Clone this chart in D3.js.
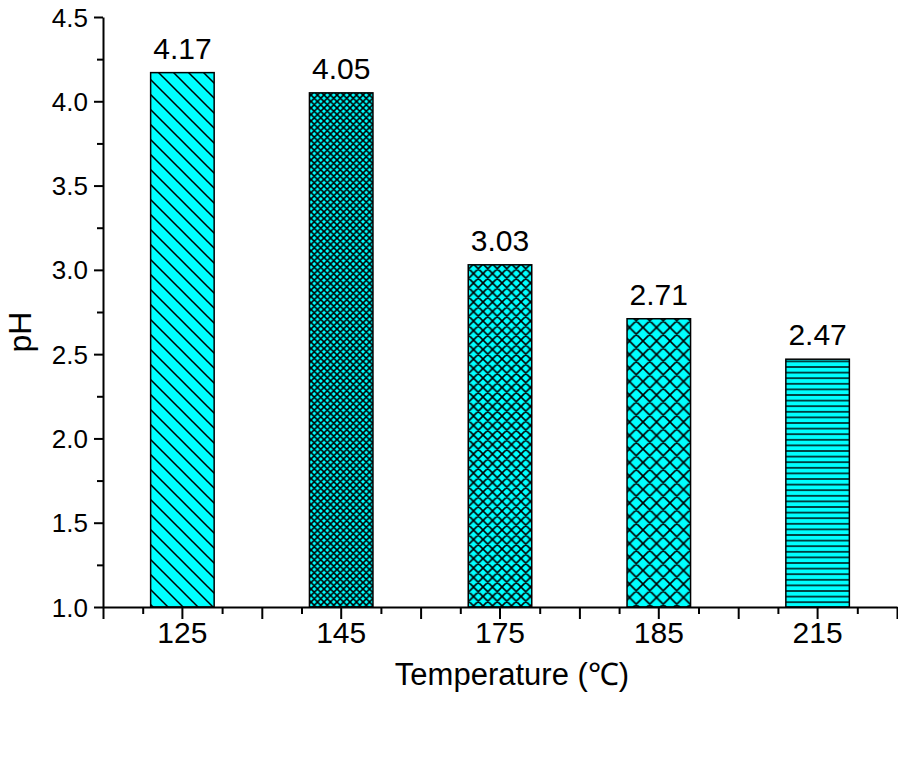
<!DOCTYPE html>
<html>
<head>
<meta charset="utf-8">
<script src="https://cdn.jsdelivr.net/npm/d3@7"></script>
<style>
  body { margin: 0; background: #fff; }
  svg text { font-family: Arial, "Liberation Sans", sans-serif; fill: #000; }
  .axis path, .axis line { stroke: #000; }
</style>
</head>
<body>
<div id="chart"></div>
<script>
var temperatures = ["125", "145", "175", "185", "215"];
var phValues = [4.17, 4.05, 3.03, 2.71, 2.47];
var valueLabels = ["4.17", "4.05", "3.03", "2.71", "2.47"];
var patternIds = ["hatch-back", "cross-fine", "cross-mid", "cross-wide", "horiz"];
var yTicks = [1.0, 1.5, 2.0, 2.5, 3.0, 3.5, 4.0, 4.5];

var width = 898, height = 762;
var margin = {top: 17, right: 1, bottom: 155, left: 103};
var innerW = width - margin.left - margin.right;
var innerH = height - margin.top - margin.bottom;

var svg = d3.select("#chart").append("svg")
  .attr("width", width)
  .attr("height", height);

// fill patterns
var defs = svg.append("defs");
function addPattern(id, w, h, d, sw) {
  var p = defs.append("pattern")
    .attr("id", id)
    .attr("patternUnits", "userSpaceOnUse")
    .attr("width", w)
    .attr("height", h);
  p.append("rect").attr("width", w).attr("height", h).attr("fill", "#00ffff");
  p.append("path").attr("d", d).attr("stroke", "#000").attr("stroke-width", sw).attr("fill", "none");
}
function diag(s) { return "M-1,-1L" + (s + 1) + "," + (s + 1) + "M" + (s - 1) + ",-1L" + (s + 1) + ",1M-1," + (s - 1) + "L1," + (s + 1); }
function cross(s) { return diag(s) + "M" + (s + 1) + ",-1L-1," + (s + 1) + "M1,-1L-1,1M" + (s + 1) + "," + (s - 1) + "L" + (s - 1) + "," + (s + 1); }
addPattern("hatch-back", 15, 15, diag(15), 1.5);
addPattern("cross-fine", 6.5, 6.5, cross(6.5), 1.6);
addPattern("cross-mid", 9.5, 9.5, cross(9.5), 1.6);
addPattern("cross-wide", 13.5, 13.5, cross(13.5), 1.6);
addPattern("horiz", 10, 5.6, "M0,2.8L10,2.8", 1.4);

var g = svg.append("g").attr("transform", "translate(" + margin.left + "," + margin.top + ")");

var x = d3.scaleBand().domain(temperatures).range([0, innerW]).paddingInner(0.6).paddingOuter(0.3);
var xIdx = d3.scaleLinear().domain([0, temperatures.length]).range([0, innerW]);
var y = d3.scaleLinear().domain([1.0, 4.5]).range([innerH, 0]);

// bars
g.selectAll(".bar").data(phValues).enter().append("rect")
  .attr("class", "bar")
  .attr("x", function(d, i) { return x(temperatures[i]); })
  .attr("width", x.bandwidth())
  .attr("y", function(d) { return y(d); })
  .attr("height", function(d) { return y(1.0) - y(d); })
  .attr("fill", function(d, i) { return "url(#" + patternIds[i] + ")"; })
  .attr("stroke", "#000")
  .attr("stroke-width", 1.5);

// value labels
g.selectAll(".val").data(phValues).enter().append("text")
  .attr("x", function(d, i) { return x(temperatures[i]) + x.bandwidth() / 2; })
  .attr("y", function(d) { return y(d) - 14; })
  .attr("text-anchor", "middle")
  .style("font-size", "30px")
  .text(function(d, i) { return valueLabels[i]; });

// y axis
var yMinor = d3.range(1.25, 4.5, 0.5);
g.append("g").attr("class", "axis")
  .call(d3.axisLeft(y).tickValues(yMinor).tickSize(6).tickFormat(""))
  .call(function(s) { s.select(".domain").remove(); })
  .selectAll("line").attr("stroke-width", 2);
var yAx = g.append("g").attr("class", "axis")
  .call(d3.axisLeft(y).tickValues(yTicks).tickSize(9).tickSizeOuter(0).tickPadding(6).tickFormat(d3.format(".1f")));
yAx.select(".domain").attr("stroke-width", 2);
yAx.selectAll("line").attr("stroke-width", 2);
yAx.selectAll("text").style("font-size", "26px").attr("dy", "0.35em");

// x axis
var xMinor = d3.range(0.25, temperatures.length, 0.5);
var xMajor = d3.range(0, temperatures.length + 0.5, 1);
var xm = g.append("g").attr("class", "axis").attr("transform", "translate(0," + innerH + ")")
  .call(d3.axisBottom(xIdx).tickValues(xMinor).tickSize(7).tickFormat(""));
xm.select(".domain").remove();
xm.selectAll("line").attr("stroke-width", 2);
var xb = g.append("g").attr("class", "axis").attr("transform", "translate(0," + innerH + ")")
  .call(d3.axisBottom(xIdx).tickValues(xMajor).tickSize(12).tickSizeOuter(0).tickFormat(""));
xb.select(".domain").attr("stroke-width", 2);
xb.selectAll("line").attr("stroke-width", 2);
var xAx = g.append("g").attr("class", "axis").attr("transform", "translate(0," + innerH + ")")
  .call(d3.axisBottom(x).tickSize(12).tickSizeOuter(0).tickPadding(3));
xAx.select(".domain").remove();
xAx.selectAll("line").attr("stroke-width", 2);
xAx.selectAll("text").style("font-size", "30px");

// axis titles
svg.append("text")
  .attr("x", 512).attr("y", 685)
  .attr("text-anchor", "middle")
  .style("font-size", "31px")
  .text("Temperature (℃)");

svg.append("text")
  .attr("transform", "translate(31,332) rotate(-90)")
  .attr("text-anchor", "middle")
  .style("font-size", "32px")
  .text("pH");
</script>
</body>
</html>
